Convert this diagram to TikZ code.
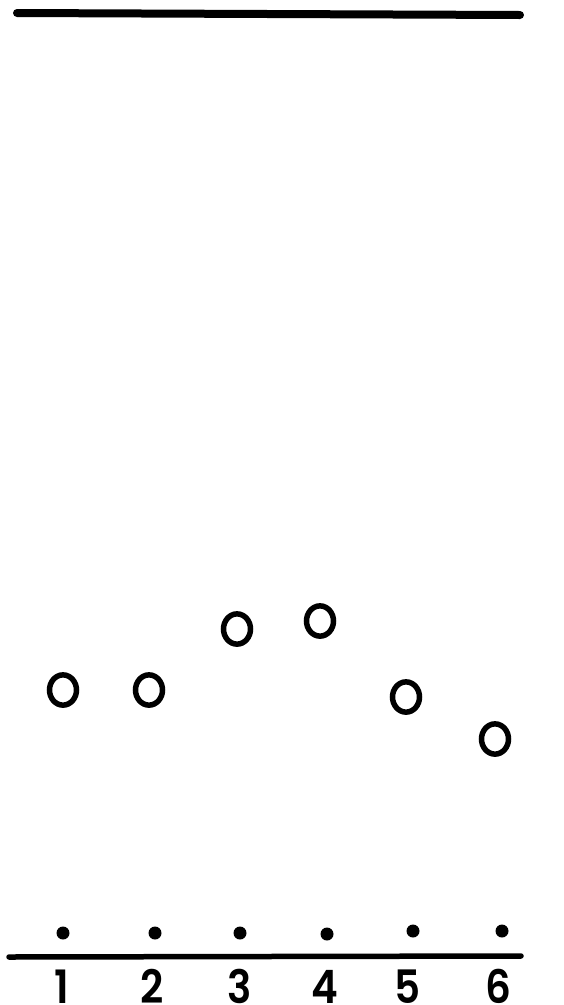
\documentclass[tikz,border=0pt]{standalone}
\usepackage{fontspec}
\setmainfont{Poppins}
\newfontfamily\lanefont{Poppins}[UprightFont=* SemiBold]
\begin{document}
\begin{tikzpicture}[x=1pt,y=-1pt,
  spot/.style={circle,draw=black,line width=5.5pt,minimum width=27pt,inner sep=0pt,yscale=1.12},
  origin/.style={circle,fill=black,minimum size=13pt,inner sep=0pt},
  lane/.style={font=\fontsize{46}{46}\selectfont\lanefont,anchor=base,inner sep=0pt,text depth=0pt,xscale=0.88}]
\useasboundingbox (0,0) rectangle (563,1005);
\coordinate (t1) at (17,13);
\coordinate (t2) at (520,15);
\draw[line width=8pt,line cap=round] (t1) -- (t2);
\coordinate (b1) at (9,957);
\coordinate (b2) at (521,956);
\draw[line width=5.5pt,line cap=round] (b1) -- (b2);
\node[origin] (o1) at (63,933) {};
\node[origin] (o2) at (155,933) {};
\node[origin] (o3) at (240,933) {};
\node[origin] (o4) at (327,934) {};
\node[origin] (o5) at (413,931) {};
\node[origin] (o6) at (502,931) {};
\node[spot] (s1) at (63,690) {};
\node[spot] (s2) at (149,690) {};
\node[spot] (s3) at (237,629) {};
\node[spot] (s4) at (320,621) {};
\node[spot] (s5) at (406,697) {};
\node[spot] (s6) at (495,739) {};
\node[lane] (n1) at (62,1003) {1};
\node[lane] (n2) at (152,1003) {2};
\node[lane] (n3) at (240,1003) {3};
\node[lane] (n4) at (325,1003) {4};
\node[lane] (n5) at (408,1003) {5};
\node[lane] (n6) at (498,1003) {6};
\end{tikzpicture}
\end{document}
